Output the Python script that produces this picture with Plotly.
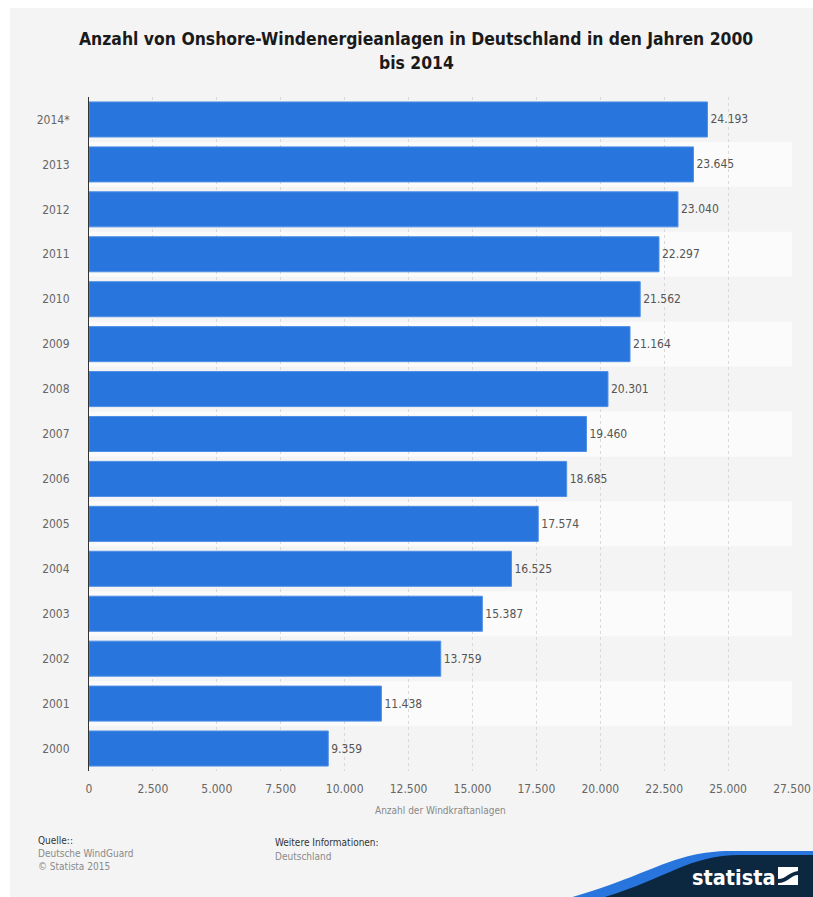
import plotly.graph_objects as go

years = ["2000", "2001", "2002", "2003", "2004", "2005", "2006", "2007",
         "2008", "2009", "2010", "2011", "2012", "2013", "2014*"]
values = [9359, 11438, 13759, 15387, 16525, 17574, 18685, 19460,
          20301, 21164, 21562, 22297, 23040, 23645, 24193]
x_ticks = [0, 2500, 5000, 7500, 10000, 12500, 15000, 17500, 20000, 22500, 25000, 27500]

title_lines = ["Anzahl von Onshore-Windenergieanlagen in Deutschland in den Jahren 2000",
               "bis 2014"]
x_title = "Anzahl der Windkraftanlagen"

SW, SH = 813, 897
W, H = SW, SH
L, R, T, B = 89, 792, 97, 771  # pixel coords of plot area
FONT = "DejaVu Sans Condensed, DejaVu Sans, sans-serif"
NAVY = "#0c2840"
BLUE = "#2876dd"


def px(x):
    return (x - L) / (R - L)


def py(y):
    return (B - y) / (B - T)


fig = go.Figure()
fig.add_trace(go.Bar(
    y=years, x=values, orientation="h",
    marker=dict(color=BLUE, line=dict(color="#4f8fe6", width=1)),
    width=0.78,
    texttemplate="%{x:,}", textposition="outside", cliponaxis=False,
    textfont=dict(size=12, color="#555555", family=FONT),
    hoverinfo="skip",
))

shapes = []
# panel background
shapes.append(dict(type="rect", xref="paper", yref="paper",
                   x0=px(10), x1=px(SW + 5), y0=py(8), y1=py(SH + 5),
                   fillcolor="#f4f4f4", line=dict(width=0), layer="below"))
# stripes
for i, _ in enumerate(years):
    if i % 2 == 1:
        shapes.append(dict(type="rect", xref="x domain", yref="y",
                           x0=0, x1=1, y0=i - 0.5, y1=i + 0.5,
                           fillcolor="#fbfbfb", line=dict(width=0), layer="below"))


def P(x, y):
    return f"{px(x):.5f},{py(y):.5f}"


blue_path = ("M" + P(565, SH + 2) + " C" + P(645, 878) + " " + P(672, 851) + " " + P(730, 851)
             + " L" + P(SW + 2, 851) + " L" + P(SW + 2, SH + 2) + " Z")
navy_path = ("M" + P(598, SH + 2) + " C" + P(665, 880) + " " + P(688, 855) + " " + P(740, 855)
             + " L" + P(SW + 2, 855) + " L" + P(SW + 2, SH + 2) + " Z")
shapes.append(dict(type="path", xref="paper", yref="paper", path=blue_path,
                   fillcolor=BLUE, line=dict(width=0), layer="above"))
shapes.append(dict(type="path", xref="paper", yref="paper", path=navy_path,
                   fillcolor=NAVY, line=dict(width=0), layer="above"))
# icon
shapes.append(dict(type="rect", xref="paper", yref="paper",
                   x0=px(778), x1=px(798), y0=py(885), y1=py(867),
                   fillcolor="white", line=dict(width=0), layer="above"))
icon_path = ("M" + P(778, 879) + " C" + P(786, 879) + " " + P(789, 872) + " " + P(798, 871)
             + " L" + P(798, 875) + " C" + P(791, 875) + " " + P(788, 883) + " " + P(778, 883) + " Z")
shapes.append(dict(type="path", xref="paper", yref="paper", path=icon_path,
                   fillcolor=NAVY, line=dict(width=0), layer="above"))


def note(text, x, y, size, color, anchor="left", family=FONT):
    return dict(text=text, x=px(x), y=py(y), xref="paper", yref="paper",
                showarrow=False, xanchor=anchor, yanchor="middle", align="center",
                font=dict(size=size, color=color, family=family))


annotations = [
    note("<b>" + title_lines[0] + "</b>", 416, 39, 17.4, "#1a1a1a", "center"),
    note("<b>" + title_lines[1] + "</b>", 416, 63, 17.4, "#1a1a1a", "center"),
    note(x_title, 440, 810, 10, "#888888", "center"),
    note("Quelle::", 36, 840, 10, "#333333"),
    note("Deutsche WindGuard", 36, 853, 10, "#8a8a8a"),
    note("© Statista 2015", 36, 866, 10, "#8a8a8a"),
    note("Weitere Informationen:", 273, 842, 10, "#333333"),
    note("Deutschland", 273, 856, 10, "#8a8a8a"),
    note("<b>statista</b>", 734, 877, 21.5, "white", "center"),
]

fig.update_layout(
    width=W, height=H,
    margin=dict(l=L, r=SW - R, t=T, b=SH - B, autoexpand=False),
    paper_bgcolor="white", plot_bgcolor="rgba(0,0,0,0)",
    separators=",.",
    showlegend=False,
    shapes=shapes, annotations=annotations,
    font=dict(family=FONT, size=12, color="#666666"),
    xaxis=dict(range=[0, 27500], tickvals=x_ticks, tickformat=",d",
               showgrid=True, gridcolor="#d9d9d9", griddash="dot", gridwidth=1,
               zeroline=False, showline=False, ticks="", ticklabelstandoff=9,
               tickfont=dict(size=12, color="#666666"), fixedrange=True),
    yaxis=dict(type="category", showgrid=False, zeroline=False,
               showline=True, linecolor="#333333", linewidth=1,
               ticks="", ticklabelstandoff=16,
               tickfont=dict(size=12, color="#666666"), fixedrange=True),
)

fig.write_html(
    "out.html",
    config={"displayModeBar": False},
    post_script="document.body.style.margin='0';"
                "document.documentElement.style.overflow='hidden';",
)
